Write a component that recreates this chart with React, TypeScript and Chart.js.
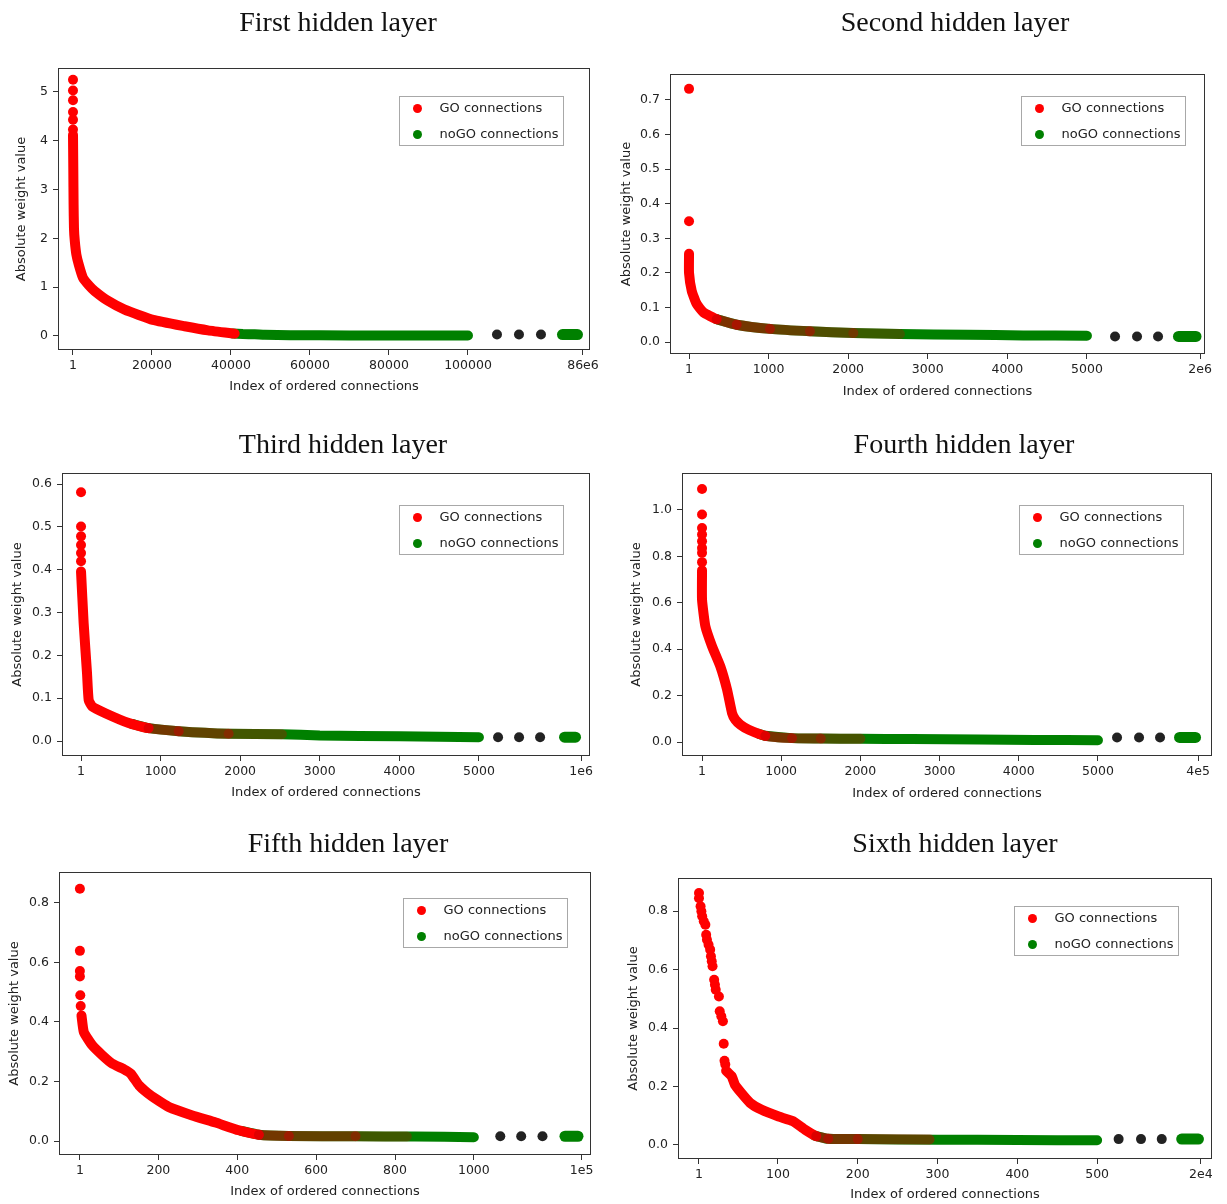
import React, { useEffect, useRef } from 'react';
import { Chart, registerables } from 'chart.js';

Chart.register(...registerables);

// ---------------- Data ----------------
// Panel 1 – First hidden layer
const p1GoDotX = [1, 1, 1, 1, 1, 1];
const p1GoDotY = [5.25, 5.03, 4.83, 4.59, 4.43, 4.23];
const p1GoX = [1, 80, 150, 250, 450, 850, 1500, 2530, 4000, 5490, 8860, 13080, 20250, 28270, 34180, 40930];
const p1GoY = [4.12, 3.4, 2.7, 2.2, 1.95, 1.67, 1.45, 1.19, 1.04, 0.92, 0.72, 0.54, 0.33, 0.2, 0.116, 0.048];
const p1NoGoX = [40500, 43000, 46000, 48500, 55000, 70000, 85000, 100000];
const p1NoGoY = [0.05, 0.04, 0.035, 0.025, 0.015, 0.012, 0.01, 0.01];
const p1TailDotX = [107340, 112910, 118480];
const p1TailDotY = [0.03, 0.03, 0.03];
const p1TailBlockX = [123920, 127720];
const p1TailBlockY = [0.03, 0.03];
const p1XTicks = [1, 20000, 40000, 60000, 80000, 100000, 129110];
const p1XTickLabels = ['1', '20000', '40000', '60000', '80000', '100000', '86e6'];
const p1YTicks = [0, 1, 2, 3, 4, 5];
const p1YTickLabels = ['0', '1', '2', '3', '4', '5'];

// Panel 2 – Second hidden layer
const p2GoDotX = [1, 1];
const p2GoDotY = [0.732, 0.349];
const p2GoX = [1, 1, 35, 97, 180, 348, 600, 1018, 1520, 2065, 2650];
const p2GoY = [0.255, 0.2, 0.148, 0.11, 0.086, 0.066, 0.05, 0.038, 0.031, 0.026, 0.023];
const p2NoGoX = [348, 600, 1018, 1520, 2065, 2650, 3500, 4200, 5000];
const p2NoGoY = [0.066, 0.05, 0.038, 0.031, 0.026, 0.023, 0.021, 0.019, 0.018];
const p2TailDotX = [5353, 5629, 5893];
const p2TailDotY = [0.016, 0.016, 0.016];
const p2TailBlockX = [6150, 6370];
const p2TailBlockY = [0.016, 0.016];
const p2XTicks = [1, 1000, 2000, 3000, 4000, 5000, 6421];
const p2XTickLabels = ['1', '1000', '2000', '3000', '4000', '5000', '2e6'];
const p2YTicks = [0, 0.1, 0.2, 0.3, 0.4, 0.5, 0.6, 0.7];
const p2YTickLabels = ['0.0', '0.1', '0.2', '0.3', '0.4', '0.5', '0.6', '0.7'];

// Panel 3 – Third hidden layer
const p3GoDotX = [1, 1, 1, 1, 1, 1];
const p3GoDotY = [0.581, 0.501, 0.478, 0.458, 0.439, 0.42];
const p3GoX = [1, 34, 76, 97, 139, 306, 600, 850, 1228, 1855, 2525];
const p3GoY = [0.396, 0.275, 0.159, 0.096, 0.081, 0.065, 0.042, 0.03, 0.023, 0.017, 0.016];
const p3NoGoX = [640, 850, 1228, 1855, 2525, 3000, 4000, 5000];
const p3NoGoY = [0.04, 0.03, 0.023, 0.017, 0.016, 0.013, 0.011, 0.009];
const p3TailDotX = [5240, 5504, 5768];
const p3TailDotY = [0.009, 0.009, 0.009];
const p3TailBlockX = [6075, 6213];
const p3TailBlockY = [0.009, 0.009];
const p3XTicks = [1, 1000, 2000, 3000, 4000, 5000, 6283];
const p3XTickLabels = ['1', '1000', '2000', '3000', '4000', '5000', '1e6'];
const p3YTicks = [0, 0.1, 0.2, 0.3, 0.4, 0.5, 0.6];
const p3YTickLabels = ['0.0', '0.1', '0.2', '0.3', '0.4', '0.5', '0.6'];

// Panel 4 – Fourth hidden layer
const p4GoDotX = [1, 1, 1, 1, 1, 1, 1, 1];
const p4GoDotY = [1.09, 0.98, 0.922, 0.894, 0.865, 0.836, 0.815, 0.775];
const p4GoX = [1, 1, 43, 127, 232, 317, 380, 422, 485, 591, 800, 1137, 1500, 2000];
const p4GoY = [0.74, 0.613, 0.499, 0.413, 0.326, 0.226, 0.125, 0.096, 0.075, 0.053, 0.027, 0.017, 0.015, 0.014];
const p4NoGoX = [717, 800, 1137, 1500, 2000, 2650, 3500, 4200, 5000];
const p4NoGoY = [0.036, 0.027, 0.017, 0.015, 0.014, 0.013, 0.011, 0.009, 0.008];
const p4TailDotX = [5241, 5519, 5784];
const p4TailDotY = [0.02, 0.02, 0.02];
const p4TailBlockX = [6030, 6232];
const p4TailBlockY = [0.02, 0.02];
const p4XTicks = [1, 1000, 2000, 3000, 4000, 5000, 6264];
const p4XTickLabels = ['1', '1000', '2000', '3000', '4000', '5000', '4e5'];
const p4YTicks = [0, 0.2, 0.4, 0.6, 0.8, 1.0];
const p4YTickLabels = ['0.0', '0.2', '0.4', '0.6', '0.8', '1.0'];

// Panel 5 – Fifth hidden layer
const p5GoDotX = [1, 1, 1, 1, 2, 3];
const p5GoDotY = [0.848, 0.639, 0.571, 0.553, 0.49, 0.454];
const p5GoX = [5, 11, 32, 58, 83, 113, 130, 151, 172, 193, 227, 286, 345, 404, 455, 531, 700, 830];
const p5GoY = [0.422, 0.366, 0.322, 0.288, 0.26, 0.241, 0.226, 0.187, 0.162, 0.142, 0.114, 0.086, 0.062, 0.036, 0.021, 0.017, 0.016, 0.015];
const p5NoGoX = [410, 455, 531, 700, 850, 1000];
const p5NoGoY = [0.034, 0.021, 0.017, 0.016, 0.015, 0.013];
const p5TailDotX = [1067, 1120, 1174];
const p5TailDotY = [0.016, 0.016, 0.016];
const p5TailBlockX = [1231, 1264];
const p5TailBlockY = [0.016, 0.016];
const p5XTicks = [1, 200, 400, 600, 800, 1000, 1273];
const p5XTickLabels = ['1', '200', '400', '600', '800', '1000', '1e5'];
const p5YTicks = [0, 0.2, 0.4, 0.6, 0.8];
const p5YTickLabels = ['0.0', '0.2', '0.4', '0.6', '0.8'];

// Panel 6 – Sixth hidden layer
const p6GoDotX = [1, 1, 3, 4, 5, 7, 9, 10, 11, 13, 15, 16, 17, 18, 20, 21, 22, 26, 27, 29, 31, 32, 33, 34];
const p6GoDotY = [0.862, 0.844, 0.816, 0.799, 0.782, 0.765, 0.753, 0.719, 0.702, 0.685, 0.668, 0.645, 0.628, 0.611, 0.565, 0.548, 0.531, 0.508, 0.457, 0.44, 0.423, 0.346, 0.288, 0.275];
const p6GoX = [35, 42, 46, 54, 65, 79, 100, 119, 134, 148, 163, 200, 290];
const p6GoY = [0.254, 0.235, 0.206, 0.178, 0.144, 0.121, 0.098, 0.081, 0.052, 0.03, 0.021, 0.02, 0.019];
const p6NoGoX = [146, 163, 200, 300, 400, 500];
const p6NoGoY = [0.032, 0.021, 0.02, 0.018, 0.017, 0.016];
const p6TailDotX = [527, 555, 581];
const p6TailDotY = [0.02, 0.02, 0.02];
const p6TailBlockX = [606, 627];
const p6TailBlockY = [0.02, 0.02];
const p6XTicks = [1, 100, 200, 300, 400, 500, 630];
const p6XTickLabels = ['1', '100', '200', '300', '400', '500', '2e4'];
const p6YTicks = [0, 0.2, 0.4, 0.6, 0.8];
const p6YTickLabels = ['0.0', '0.2', '0.4', '0.6', '0.8'];

const seriesLabels = ['GO connections', 'noGO connections'];
const xAxisTitle = 'Index of ordered connections';
const yAxisTitle = 'Absolute weight value';

// ---------------- Panels (data + layout) ----------------
const PANELS = [
  {
    title: 'First hidden layer',
    goDotX: p1GoDotX, goDotY: p1GoDotY, goX: p1GoX, goY: p1GoY, noGoX: p1NoGoX, noGoY: p1NoGoY,
    tailDotX: p1TailDotX, tailDotY: p1TailDotY, tailBlockX: p1TailBlockX, tailBlockY: p1TailBlockY,
    xTicks: p1XTicks, xTickLabels: p1XTickLabels, yTicks: p1YTicks, yTickLabels: p1YTickLabels,
    mixStart: null,
    canvas: [0, 0, 613, 405], area: [58, 68, 590, 350], yTitleX: 22, xTitleY: 387, titlePos: [338, 31],
    xRange: [-3796, 130887], yRange: [-0.287, 5.49], legend: [27, 28],
  },
  {
    title: 'Second hidden layer',
    goDotX: p2GoDotX, goDotY: p2GoDotY, goX: p2GoX, goY: p2GoY, noGoX: p2NoGoX, noGoY: p2NoGoY,
    tailDotX: p2TailDotX, tailDotY: p2TailDotY, tailBlockX: p2TailBlockX, tailBlockY: p2TailBlockY,
    xTicks: p2XTicks, xTickLabels: p2XTickLabels, yTicks: p2YTicks, yTickLabels: p2YTickLabels,
    mixStart: 348,
    canvas: [613, 0, 614, 405], area: [670, 74, 1205, 354], yTitleX: 627, xTitleY: 392, titlePos: [955, 31],
    xRange: [-238, 6483], yRange: [-0.0347, 0.775], legend: [20, 22],
  },
  {
    title: 'Third hidden layer',
    goDotX: p3GoDotX, goDotY: p3GoDotY, goX: p3GoX, goY: p3GoY, noGoX: p3NoGoX, noGoY: p3NoGoY,
    tailDotX: p3TailDotX, tailDotY: p3TailDotY, tailBlockX: p3TailBlockX, tailBlockY: p3TailBlockY,
    xTicks: p3XTicks, xTickLabels: p3XTickLabels, yTicks: p3YTicks, yTickLabels: p3YTickLabels,
    mixStart: 640,
    canvas: [0, 405, 613, 410], area: [62, 473, 590, 756], yTitleX: 18, xTitleY: 793, titlePos: [343, 453],
    xRange: [-238, 6395], yRange: [-0.035, 0.626], legend: [27, 32],
  },
  {
    title: 'Fourth hidden layer',
    goDotX: p4GoDotX, goDotY: p4GoDotY, goX: p4GoX, goY: p4GoY, noGoX: p4NoGoX, noGoY: p4NoGoY,
    tailDotX: p4TailDotX, tailDotY: p4TailDotY, tailBlockX: p4TailBlockX, tailBlockY: p4TailBlockY,
    xTicks: p4XTicks, xTickLabels: p4XTickLabels, yTicks: p4YTicks, yTickLabels: p4YTickLabels,
    mixStart: 717,
    canvas: [613, 405, 614, 410], area: [682, 473, 1212, 756], yTitleX: 637, xTitleY: 794, titlePos: [964, 453],
    xRange: [-252, 6440], yRange: [-0.06, 1.159], legend: [29, 32],
  },
  {
    title: 'Fifth hidden layer',
    goDotX: p5GoDotX, goDotY: p5GoDotY, goX: p5GoX, goY: p5GoY, noGoX: p5NoGoX, noGoY: p5NoGoY,
    tailDotX: p5TailDotX, tailDotY: p5TailDotY, tailBlockX: p5TailBlockX, tailBlockY: p5TailBlockY,
    xTicks: p5XTicks, xTickLabels: p5XTickLabels, yTicks: p5YTicks, yTickLabels: p5YTickLabels,
    mixStart: 410,
    canvas: [0, 815, 613, 389], area: [59, 872, 591, 1155], yTitleX: 15, xTitleY: 1192, titlePos: [348, 852],
    xRange: [-52, 1297], yRange: [-0.047, 0.904], legend: [24, 26],
  },
  {
    title: 'Sixth hidden layer',
    goDotX: p6GoDotX, goDotY: p6GoDotY, goX: p6GoX, goY: p6GoY, noGoX: p6NoGoX, noGoY: p6NoGoY,
    tailDotX: p6TailDotX, tailDotY: p6TailDotY, tailBlockX: p6TailBlockX, tailBlockY: p6TailBlockY,
    xTicks: p6XTicks, xTickLabels: p6XTickLabels, yTicks: p6YTicks, yTickLabels: p6YTickLabels,
    mixStart: 146,
    canvas: [613, 815, 614, 389], area: [678, 878, 1212, 1159], yTitleX: 634, xTitleY: 1195, titlePos: [955, 852],
    xRange: [-25.3, 644], yRange: [-0.048, 0.913], legend: [34, 28],
  },
];

const RED = '#ff0000';
const GREEN = '#008000';
const DARK = '#222222';
const TICK_FONT = { family: '"DejaVu Sans", sans-serif', size: 12.5 };
const LABEL_FONT = { family: '"DejaVu Sans", sans-serif', size: 13 };
const DOT_R = 5;
const BAND_W = 10;

const toPts = (xs: number[], ys: number[]) => xs.map((x, i) => ({ x, y: ys[i] }));

function Panel({ cfg }: { cfg: any }) {
  const ref = useRef<HTMLCanvasElement | null>(null);
  const [cx, cy, cw, ch] = cfg.canvas;

  useEffect(() => {
    const [L, T, R, B] = cfg.area;
    const lh = LABEL_FONT.size * 1.2;
    const pl = cfg.yTitleX - lh / 2 - cx;
    const wY = L - cx - pl;
    const pt = T - cy;
    const pr = cx + cw - R;
    const scaleBottom = cfg.xTitleY + lh / 2;
    const pb = cy + ch - scaleBottom;
    const hX = scaleBottom - B;

    const goPts = toPts(cfg.goX, cfg.goY);
    const mix = cfg.mixStart;
    const mixEnd = cfg.goX[cfg.goX.length - 1];

    const decor = {
      id: 'decor',
      afterDraw(chart: any) {
        const { ctx, chartArea } = chart;
        ctx.save();
        // frame
        ctx.strokeStyle = '#333';
        ctx.lineWidth = 1;
        const l = Math.round(chartArea.left) + 0.5;
        const t = Math.round(chartArea.top) + 0.5;
        const r = Math.round(chartArea.right) - 0.5;
        const b = Math.round(chartArea.bottom) - 0.5;
        ctx.strokeRect(l, t, r - l, b - t);
        // title
        ctx.fillStyle = '#111';
        ctx.font = '28px "Liberation Serif", serif';
        ctx.textAlign = 'center';
        ctx.textBaseline = 'alphabetic';
        ctx.fillText(cfg.title, cfg.titlePos[0] - cx, cfg.titlePos[1] - cy);
        // legend
        const lw = 164, lhgt = 49;
        const lx = Math.round(chartArea.right - cfg.legend[0] - lw) + 0.5;
        const ly = Math.round(chartArea.top + cfg.legend[1]) + 0.5;
        ctx.fillStyle = '#fff';
        ctx.fillRect(lx, ly, lw, lhgt);
        ctx.strokeStyle = '#a8a8a8';
        ctx.strokeRect(lx, ly, lw, lhgt);
        const colors = [RED, GREEN];
        ctx.font = `${LABEL_FONT.size}px ${LABEL_FONT.family}`;
        ctx.textAlign = 'left';
        ctx.textBaseline = 'middle';
        seriesLabels.forEach((lab, i) => {
          const yy = ly + 12 + i * 26;
          ctx.fillStyle = colors[i];
          ctx.beginPath();
          ctx.arc(lx + 18, yy, 4.5, 0, Math.PI * 2);
          ctx.fill();
          ctx.fillStyle = DARK;
          ctx.fillText(lab, lx + 40, yy);
        });
        ctx.restore();
      },
    };

    const chart = new Chart(ref.current as HTMLCanvasElement, {
      type: 'scatter',
      data: {
        datasets: [
          {
            label: seriesLabels[0] + ' (isolated)',
            data: toPts(cfg.goDotX, cfg.goDotY),
            pointRadius: DOT_R,
            pointBorderWidth: 0,
            pointBackgroundColor: RED,
            showLine: false,
            order: 0,
          },
          {
            label: seriesLabels[0],
            data: goPts,
            showLine: true,
            pointRadius: 0,
            borderColor: RED,
            borderWidth: BAND_W,
            borderCapStyle: 'round',
            borderJoinStyle: 'round',
            tension: 0.15,
            segment: {
              borderColor: (c: any) => {
                if (mix == null || c.p0.parsed.x < mix) return undefined;
                const tt = Math.min(1, (c.p0.parsed.x - mix) / Math.max(1, mixEnd - mix));
                const a = 0.62 - 0.45 * tt;
                return `rgba(200,0,0,${a.toFixed(3)})`;
              },
            },
            order: 1,
          } as any,
          {
            label: seriesLabels[1],
            data: toPts(cfg.noGoX, cfg.noGoY),
            showLine: true,
            pointRadius: 0,
            borderColor: GREEN,
            borderWidth: BAND_W,
            borderCapStyle: 'round',
            borderJoinStyle: 'round',
            tension: 0.15,
            order: 2,
          },
          {
            label: 'break',
            data: toPts(cfg.tailDotX, cfg.tailDotY),
            showLine: false,
            pointRadius: DOT_R,
            pointBorderWidth: 0,
            pointBackgroundColor: DARK,
            order: 3,
          },
          {
            label: seriesLabels[1] + ' (tail)',
            data: toPts(cfg.tailBlockX, cfg.tailBlockY),
            showLine: true,
            pointRadius: 0,
            borderColor: GREEN,
            borderWidth: 11,
            borderCapStyle: 'round',
            order: 4,
          },
        ],
      },
      options: {
        responsive: false,
        animation: false,
        devicePixelRatio: 1,
        events: [],
        layout: { padding: { left: pl, right: pr, top: pt, bottom: pb } },
        plugins: {
          legend: { display: false },
          tooltip: { enabled: false },
          title: { display: false },
        },
        scales: {
          x: {
            type: 'linear',
            min: cfg.xRange[0],
            max: cfg.xRange[1],
            afterBuildTicks: (s: any) => {
              s.ticks = cfg.xTicks.map((v: number) => ({ value: v }));
            },
            afterFit: (s: any) => {
              s.height = hX;
              s.paddingLeft = 0;
              s.paddingRight = 0;
            },
            ticks: {
              autoSkip: false,
              maxRotation: 0,
              minRotation: 0,
              padding: 3,
              color: DARK,
              font: TICK_FONT,
              callback: (v: any) => {
                const i = cfg.xTicks.indexOf(Number(v));
                return i >= 0 ? cfg.xTickLabels[i] : '';
              },
            },
            grid: { drawOnChartArea: false, drawTicks: true, tickLength: 5, color: '#333' },
            border: { display: false },
            title: { display: true, text: xAxisTitle, padding: 0, color: DARK, font: LABEL_FONT },
          },
          y: {
            type: 'linear',
            min: cfg.yRange[0],
            max: cfg.yRange[1],
            afterBuildTicks: (s: any) => {
              s.ticks = cfg.yTicks.map((v: number) => ({ value: v }));
            },
            afterFit: (s: any) => {
              s.width = wY;
            },
            ticks: {
              autoSkip: false,
              padding: 5,
              color: DARK,
              font: TICK_FONT,
              callback: (v: any) => {
                const i = cfg.yTicks.findIndex((t: number) => Math.abs(t - Number(v)) < 1e-9);
                return i >= 0 ? cfg.yTickLabels[i] : '';
              },
            },
            grid: { drawOnChartArea: false, drawTicks: true, tickLength: 5, color: '#333' },
            border: { display: false },
            title: { display: true, text: yAxisTitle, padding: 0, color: DARK, font: LABEL_FONT },
          },
        },
      } as any,
      plugins: [decor],
    });
    return () => chart.destroy();
  }, []);

  return (
    <canvas
      ref={ref}
      width={cw}
      height={ch}
      style={{ position: 'absolute', left: cx, top: cy, width: cw, height: ch }}
    />
  );
}

export default function App() {
  return (
    <div style={{ position: 'absolute', left: 0, top: 0, width: 1227, height: 1204, background: '#fff' }}>
      {PANELS.map((p, i) => (
        <Panel key={i} cfg={p} />
      ))}
    </div>
  );
}
